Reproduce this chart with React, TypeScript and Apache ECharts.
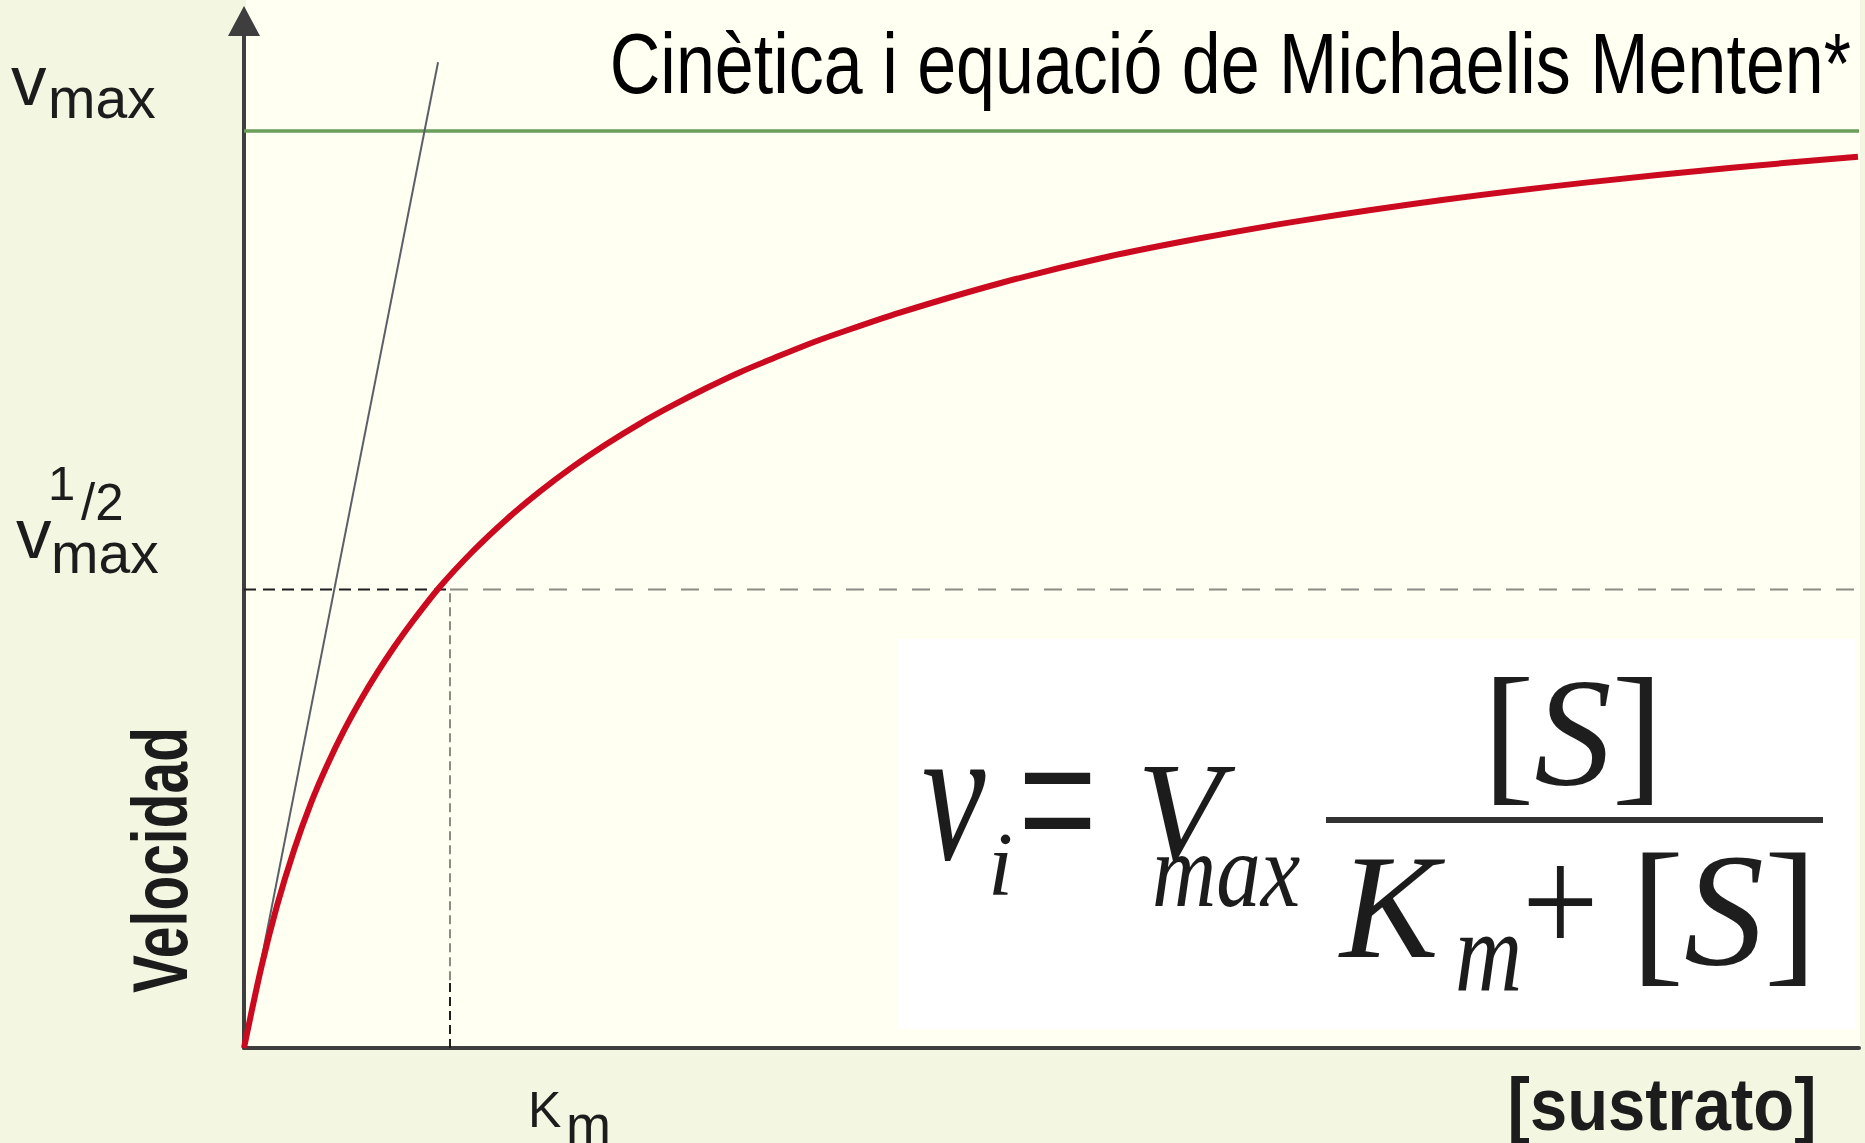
import React, { useEffect, useRef } from "react";
import * as echarts from "echarts";

// ---- data (substrate in units of Km, velocity in units of Vmax) ----
const substrate = [
  0, 0.083, 0.16, 0.243, 0.325, 0.403, 0.485, 0.568, 0.646, 0.728, 0.811, 0.951,
  1.112, 1.277, 1.437, 1.597, 1.762, 1.922, 2.083, 2.248, 2.408, 2.568, 2.733,
  2.893, 3.184, 3.67, 4.155, 4.641, 5.126, 5.825, 6.524, 7.223, 7.835,
];
const velocity = [
  0, 0.087, 0.155, 0.216, 0.267, 0.308, 0.346, 0.38, 0.409, 0.437, 0.463, 0.503,
  0.542, 0.577, 0.607, 0.634, 0.659, 0.681, 0.701, 0.72, 0.737, 0.752, 0.767,
  0.78, 0.802, 0.834, 0.861, 0.883, 0.902, 0.925, 0.944, 0.96, 0.972,
];
const tangentX = [0, 0.942];
const tangentY = [0, 1.075];
const vmaxLevel = 1;
const halfVmax = 0.5;
const km = 1;
const kmDarkTop = 0.074;
const xMax = 7.84;
const yMax = 1.12;

const titleText = "Cinètica i equació de Michaelis Menten*";
const yLabelText = "Velocidad";
const xLabelText = "[sustrato]";

const SANS = "'Liberation Sans', Arial, Helvetica, sans-serif";
const SERIF = "'Liberation Serif', 'Times New Roman', serif";

type TOpt = {
  sx?: number;
  sy?: number;
  rot?: number;
  color?: string;
  family?: string;
  weight?: string;
  italic?: boolean;
  align?: string;
  rich?: any;
};

const T = (text: string, x: number, y: number, size: number, o: TOpt = {}) => ({
  type: "text",
  x,
  y,
  scaleX: o.sx ?? 1,
  scaleY: o.sy ?? 1,
  rotation: o.rot ?? 0,
  silent: true,
  z: 10,
  style: {
    text,
    x: 0,
    y: 0,
    fill: o.color ?? "#1c1c1c",
    fontSize: size,
    fontFamily: o.family ?? SANS,
    fontWeight: o.weight ?? "normal",
    fontStyle: o.italic ? "italic" : "normal",
    align: o.align ?? "left",
    verticalAlign: "middle",
    lineHeight: Math.round(size * 0.8),
    rich: o.rich,
  },
});

const bracketRich = (size: number) => ({
  b: { fontSize: size, fontFamily: SERIF, fill: "#1e1e1e", lineHeight: Math.round(size * 0.8) },
  s: {
    fontSize: size,
    fontFamily: SERIF,
    fontStyle: "italic",
    fill: "#1e1e1e",
    lineHeight: Math.round(size * 0.8),
  },
});

export default function App() {
  const ref = useRef<HTMLDivElement>(null);

  useEffect(() => {
    if (!ref.current) return;
    const chart = echarts.init(ref.current, undefined, { renderer: "svg" });
    const curve = substrate.map((x, i) => [x, velocity[i]]);
    const axisColor = "#3e3e3e";

    const lineSeries = (data: number[][], color: string, width: number, type: any, z: number) => ({
      type: "line",
      data,
      symbol: "none",
      silent: true,
      z,
      lineStyle: { color, width, type },
    });

    chart.setOption({
      animation: false,
      backgroundColor: "transparent",
      grid: { left: 244, right: 6, top: 21, bottom: 95 },
      xAxis: {
        type: "value",
        min: 0,
        max: xMax,
        axisLine: { show: true, lineStyle: { color: axisColor, width: 4 } },
        axisTick: { show: false },
        axisLabel: { show: false },
        splitLine: { show: false },
      },
      yAxis: {
        type: "value",
        min: 0,
        max: yMax,
        axisLine: {
          show: true,
          lineStyle: { color: axisColor, width: 4 },
          symbol: ["none", "triangle"],
          symbolSize: [32, 30],
        },
        axisTick: { show: false },
        axisLabel: { show: false },
        splitLine: { show: false },
      },
      series: [
        lineSeries([[0, vmaxLevel], [xMax, vmaxLevel]], "#6a9e5a", 3.5, "solid", 2),
        lineSeries([[0, halfVmax], [km, halfVmax]], "#1e1e1e", 2, [12, 7], 2),
        lineSeries([[km, halfVmax], [xMax, halfVmax]], "#8c8c84", 2, [18, 15], 2),
        lineSeries([[km, kmDarkTop], [km, halfVmax]], "#8c8c84", 2, [9, 5], 2),
        lineSeries([[km, 0], [km, kmDarkTop]], "#1e1e1e", 2, [9, 5], 2),
        lineSeries(tangentX.map((x, i) => [x, tangentY[i]]), "#5a6068", 2, "solid", 3),
        {
          type: "line",
          data: curve,
          symbol: "none",
          silent: true,
          smooth: 0.3,
          z: 5,
          lineStyle: { color: "#cc0a1f", width: 6 },
        },
      ],
      graphic: [
        T(titleText, 1851, 63.4, 70, { align: "right", sy: 1.22, color: "#000" }),
        // vmax
        T("v", 11, 80, 71),
        T("max", 48, 98, 57),
        // 1/2 vmax
        T("1", 48, 483, 49),
        T("/2", 81, 502, 51),
        T("v", 16, 533, 71),
        T("max", 51, 553, 57),
        // axis titles
        T(yLabelText, 160, 860, 77, { align: "center", weight: "bold", sx: 0.74, rot: Math.PI / 2 }),
        T(xLabelText, 1662, 1104, 67, { align: "center", weight: "bold", sy: 1.1 }),
        T("K", 528, 1110, 50),
        T("m", 566, 1124, 54),
        // formula
        T("v", 922, 793, 143, { family: SERIF, italic: true, sy: 1.37 }),
        T("i", 988, 864, 90, { family: SERIF, italic: true }),
        T("=", 1018, 800, 140, { family: SERIF, sy: 1.6 }),
        T("V", 1137, 812, 139, { family: SERIF, italic: true }),
        T("max", 1152, 870, 89, { family: SERIF, italic: true, sy: 1.2 }),
        T("{b|[}{s|S}{b|]}", 1573, 732, 155, { family: SERIF, align: "center", rich: bracketRich(155) }),
        {
          type: "line",
          silent: true,
          z: 10,
          shape: { x1: 1326, y1: 820, x2: 1823, y2: 820 },
          style: { stroke: "#333", lineWidth: 6 },
        },
        T("K", 1340, 907, 148, { family: SERIF, italic: true }),
        T("m", 1455, 952, 93, { family: SERIF, italic: true, sy: 1.22 }),
        T("+", 1522, 902, 136, { family: SERIF, sy: 1.13 }),
        T("{b|[}{s|S}{b|]}", 1724, 910, 160, { family: SERIF, align: "center", rich: bracketRich(160) }),
      ],
    });
    return () => chart.dispose();
  }, []);

  return (
    <div
      style={{
        position: "absolute",
        left: 0,
        top: 0,
        width: 1865,
        height: 1143,
        background: "#f3f7e1",
        overflow: "hidden",
      }}
    >
      <div
        style={{
          position: "absolute",
          left: 246,
          top: 0,
          width: 1614,
          height: 1046,
          background: "#fffff2",
        }}
      />
      <div
        style={{
          position: "absolute",
          left: 898,
          top: 639,
          width: 957,
          height: 390,
          background: "#ffffff",
        }}
      />
      <div ref={ref} style={{ position: "absolute", left: 0, top: 0, width: 1865, height: 1143 }} />
    </div>
  );
}
